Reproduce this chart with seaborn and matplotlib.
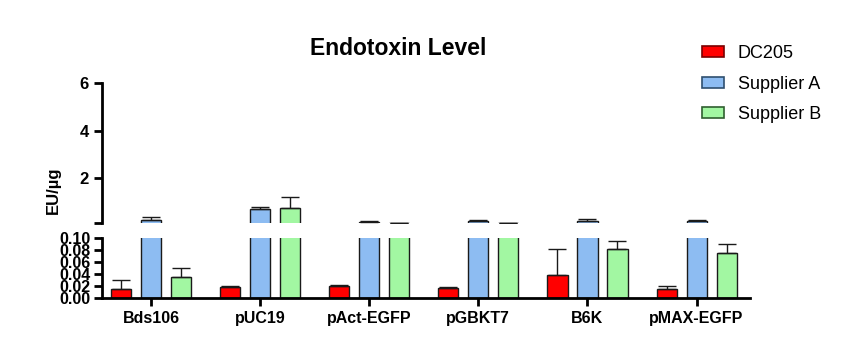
import numpy as np
import pandas as pd
import seaborn as sns
import matplotlib.pyplot as plt
from matplotlib.ticker import FormatStrFormatter

# values
plasmids = ['Bds106', 'pUC19', 'pAct-EGFP', 'pGBKT7', 'B6K', 'pMAX-EGFP']
groups = ['DC205', 'Supplier A', 'Supplier B']

dc205_mean = [0.014, 0.018, 0.020, 0.016, 0.038, 0.014]
dc205_sd = [0.016, 0.002, 0.002, 0.002, 0.044, 0.005]
supA_mean = [0.25, 0.70, 0.15, 0.19, 0.18, 0.18]
supA_sd = [0.10, 0.08, 0.03, 0.04, 0.08, 0.04]
supB_mean = [0.035, 0.74, 0.11, 0.105, 0.082, 0.074]
supB_sd = [0.015, 0.45, 0.01, 0.005, 0.012, 0.015]

colors = ['#ff0000', '#8dbcf2', '#a2f7a2']
edges = ['#7a0000', '#2f4f6f', '#2f5f2f']

df = pd.DataFrame({
    'plasmid': plasmids * 3,
    'group': np.repeat(groups, len(plasmids)),
    'value': dc205_mean + supA_mean + supB_mean,
})
sds = [dc205_sd, supA_sd, supB_sd]

sns.set_style('ticks')
plt.rcParams['font.family'] = ['Liberation Sans', 'DejaVu Sans']
plt.rcParams['text.color'] = 'black'
plt.rcParams['xtick.color'] = 'black'
plt.rcParams['ytick.color'] = 'black'
plt.rcParams['axes.edgecolor'] = 'black'

fig = plt.figure(figsize=(8.6, 3.61), dpi=100)
ax_top = fig.add_axes([0.1186, 0.382, 0.7535, 0.388])
ax_bot = fig.add_axes([0.1186, 0.175, 0.7535, 0.166])

# broken axis: upper panel 0.1-6, lower panel 0-0.1
limits = {ax_top: (0.1, 6), ax_bot: (0, 0.1)}

for ax in (ax_top, ax_bot):
    lo, hi = limits[ax]
    sns.barplot(data=df, x='plasmid', y='value', hue='group', palette=colors,
                saturation=1, width=0.825, gap=0.33, errorbar=None,
                edgecolor='#1a1a1a', linewidth=1.0,
                legend=(ax is ax_top), ax=ax)
    # one-sided error bars on top of each bar (skip ones below the panel)
    for cont, sd in zip(ax.containers, sds):
        xs, ys, es = [], [], []
        for b, s in zip(cont, sd):
            h = b.get_height()
            if h <= lo:
                b.set_visible(False)
            if h + s > lo:
                xs.append(b.get_x() + b.get_width() / 2)
                ys.append(h)
                es.append(s)
        if xs:
            ax.errorbar(xs, ys, yerr=[np.zeros(len(es)), es], fmt='none',
                        ecolor='#1a1a1a', elinewidth=1.0, capsize=6.5,
                        capthick=1.0)
    ax.set_ylim(lo, hi)
    ax.set_xlim(-0.45, 5.49)
    ax.set_xlabel('')
    ax.set_ylabel('')
    for s in ('top', 'right'):
        ax.spines[s].set_visible(False)
    ax.spines['left'].set_linewidth(2)
    ax.spines['bottom'].set_linewidth(2)
    ax.tick_params(axis='both', width=2, length=6, labelsize=12)

ax_top.set_yticks([0.1, 2, 4, 6])
ax_top.set_yticklabels(['', '2', '4', '6'], fontweight='bold')
ax_top.spines['bottom'].set_visible(False)
ax_top.tick_params(axis='x', bottom=False, labelbottom=False)

ax_bot.set_yticks(np.arange(0, 0.101, 0.02))
ax_bot.yaxis.set_major_formatter(FormatStrFormatter('%.2f'))
for lab in ax_bot.get_yticklabels():
    lab.set_fontweight('bold')
ax_bot.tick_params(axis='y', pad=2, labelsize=11.5)
ax_bot.set_xticks(range(len(plasmids)))
ax_bot.set_xticklabels(plasmids, fontweight='bold', fontsize=11.5)

sns.move_legend(ax_top, loc='upper left', bbox_to_anchor=(0.797, 0.92),
                bbox_transform=fig.transFigure, title=None, frameon=False,
                fontsize=13, handlelength=1.25, handleheight=0.55,
                labelspacing=0.75, handletextpad=0.75)
for h, ec in zip(ax_top.get_legend().legend_handles, edges):
    h.set_edgecolor(ec)
    h.set_linewidth(1.2)

fig.text(0.463, 0.867, 'Endotoxin Level', ha='center', va='center',
         fontsize=16.5, fontweight='bold')
fig.text(0.062, 0.474, 'EU/µg', ha='center', va='center', rotation=90,
         fontsize=12, fontweight='bold')

fig.savefig('out.png', dpi=100)
